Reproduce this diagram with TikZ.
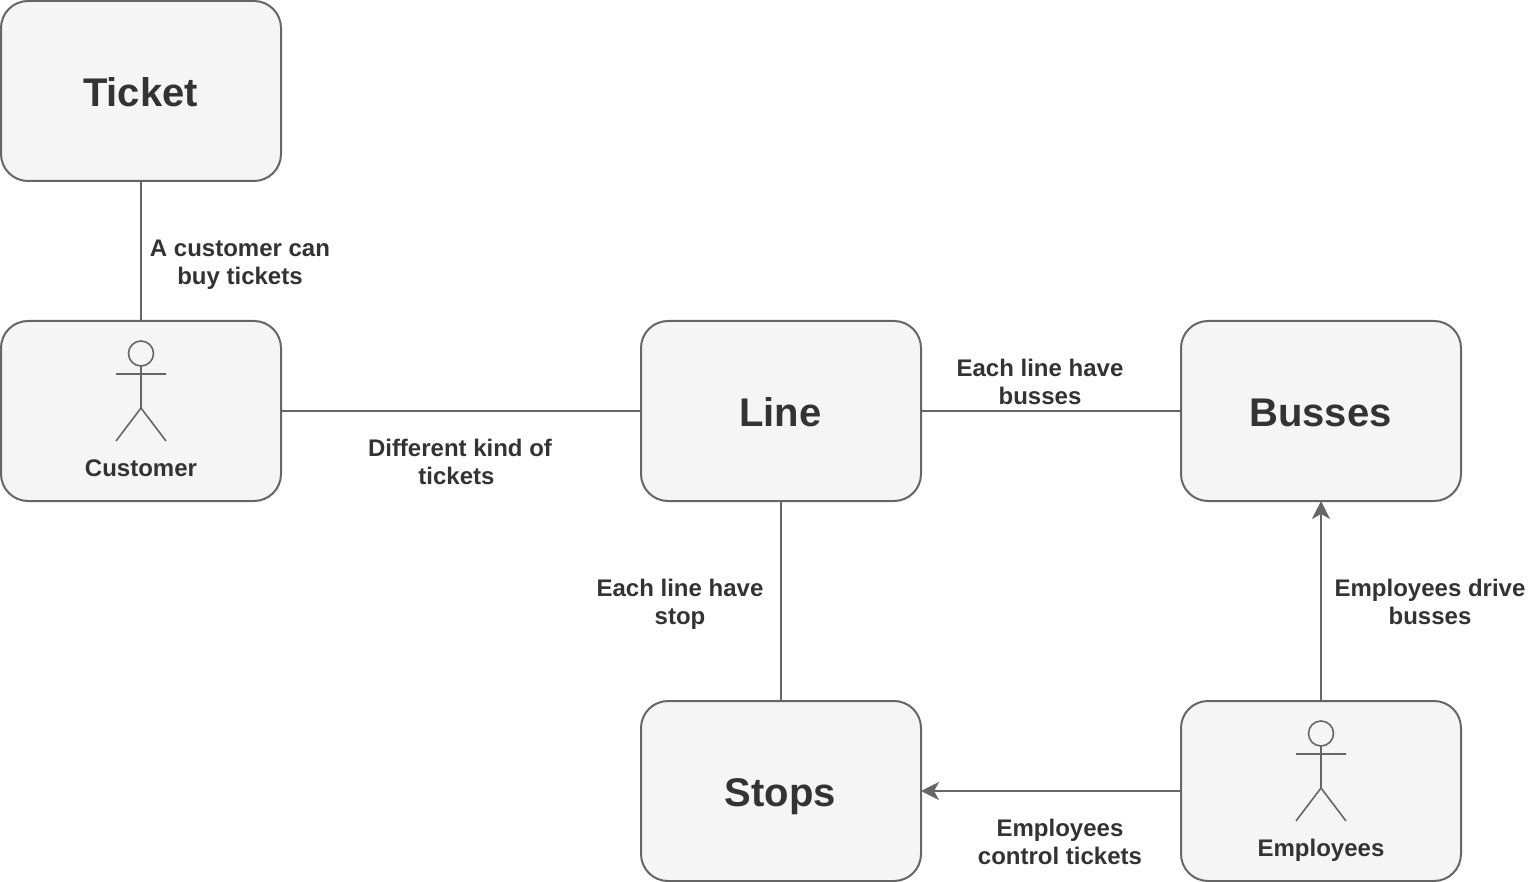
\documentclass[tikz,border=0pt]{standalone}
\usepackage{fontspec}
\setmainfont{Liberation Sans}
\usetikzlibrary{arrows.meta}
\definecolor{ln}{HTML}{666666}
\definecolor{fl}{HTML}{F5F5F5}
\definecolor{tx}{HTML}{333333}
\tikzset{x=1pt,y=-1pt,
 box/.style={draw=ln,fill=fl,line width=2pt,rounded corners=27pt,minimum width=280pt,minimum height=180pt,inner sep=0pt},
 big/.style={text=tx,anchor=base,inner sep=0pt,font=\bfseries\fontsize{40pt}{46pt}\selectfont},
 conn/.style={draw=ln,line width=2pt},
 arr/.style={conn,shorten >=-1pt,-{Stealth[length=18pt,width=18pt,inset=5pt]}},
 lab/.style={text=tx,align=center,inner sep=0pt,font=\bfseries\fontsize{24pt}{28pt}\selectfont},
 small/.style={text=tx,anchor=base,inner sep=0pt,font=\bfseries\fontsize{24pt}{28pt}\selectfont},
 fig/.style={draw=ln,line width=1.6pt}}
\newcommand{\stick}[2]{%
 \draw[fig] (#1,#2+32.5) circle[radius=12.5];
 \draw[fig] (#1,#2+45) -- (#1,#2+87) (#1-25,#2+53) -- (#1+25,#2+53)
   (#1-25,#2+120) -- (#1,#2+87) -- (#1+25,#2+120);}
\begin{document}
\begin{tikzpicture}
\useasboundingbox (0,0) rectangle (1532,882);
\node[box] (ticket) at (141,91) {};
\node[big] (tickett) at (140.5,106.5) {Ticket};
\node[box] (customer) at (141,411) {};
\node[box] (line) at (781,411) {};
\node[big] (linet) at (780.5,426.5) {Line};
\node[box] (busses) at (1321,411) {};
\node[big] (bussest) at (1320.5,426.5) {Busses};
\node[box] (stops) at (781,791) {};
\node[big] (stopst) at (780.5,806.5) {Stops};
\node[box] (employees) at (1321,791) {};
\stick{141}{321}
\stick{1321}{701}
\node[small] (c) at (141,476) {Customer};
\node[small] (e) at (1321,856) {Employees};
\draw[conn] (ticket) -- (customer);
\draw[conn] (customer) -- (line);
\draw[conn] (line) -- (busses);
\draw[conn] (line) -- (stops);
\draw[arr] (employees) -- (busses);
\draw[arr] (employees) -- (stops);
\node[lab] (l1) at (240,265) {\strut A customer can\\\strut buy tickets};
\node[lab] (l2) at (460,465) {\strut Different kind of\\\strut tickets\hspace*{7pt}};
\node[lab] (l3) at (1040,385) {\strut Each line have\\\strut busses};
\node[lab] (l4) at (680,605) {\strut Each line have\\\strut stop};
\node[lab] (l5) at (1430,605) {\strut Employees drive\\\strut busses};
\node[lab] (l6) at (1060,845) {\strut Employees\\\strut control tickets};
\end{tikzpicture}
\end{document}
